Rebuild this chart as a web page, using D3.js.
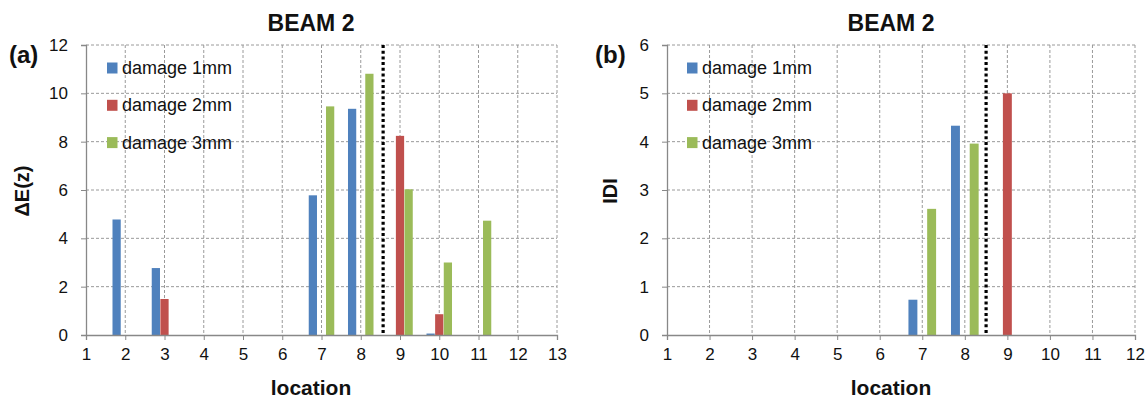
<!DOCTYPE html>
<html>
<head>
<meta charset="utf-8">
<script src="https://cdn.jsdelivr.net/npm/d3@7"></script>
<style>
  html, body { margin: 0; padding: 0; background: #fff; }
  svg { display: block; }
  text { font-family: "Liberation Sans", Arial, sans-serif; fill: #111; }
</style>
</head>
<body>
<svg id="chart" width="1148" height="402"></svg>
<script>
// Series names and colours
const seriesNames = ["damage 1mm", "damage 2mm", "damage 3mm"];
const seriesColors = ["#4F81BD", "#C0504D", "#9BBB59"];

// Panel (a): ΔE(z) per location
const locationsA = [1, 2, 3, 4, 5, 6, 7, 8, 9, 10, 11, 12, 13];
const dE1mm = [0, 4.78, 2.77, 0, 0, 0, 5.78, 9.36, 0, 0.06, 0, 0, 0];
const dE2mm = [0, 0, 1.49, 0, 0, 0, 0, 0, 8.24, 0.86, 0, 0, 0];
const dE3mm = [0, 0, 0, 0, 0, 0, 9.46, 10.81, 6.03, 3.0, 4.73, 0, 0];
const yTicksA = [0, 2, 4, 6, 8, 10, 12];
const markerA = 8.57;

// Panel (b): IDI per location
const locationsB = [1, 2, 3, 4, 5, 6, 7, 8, 9, 10, 11, 12];
const idi1mm = [0, 0, 0, 0, 0, 0, 0.73, 4.33, 0, 0, 0, 0];
const idi2mm = [0, 0, 0, 0, 0, 0, 0, 0, 5.0, 0, 0, 0];
const idi3mm = [0, 0, 0, 0, 0, 0, 2.61, 3.96, 0, 0, 0, 0];
const yTicksB = [0, 1, 2, 3, 4, 5, 6];
const markerB = 8.5;

const svg = d3.select("#chart");

function drawPanel(cfg) {
  const g = svg.append("g");
  const x = d3.scaleLinear()
    .domain([cfg.locations[0], cfg.locations[cfg.locations.length - 1]])
    .range([cfg.left, cfg.right]);
  const y = d3.scaleLinear()
    .domain([0, cfg.yTicks[cfg.yTicks.length - 1]])
    .range([cfg.bottom, cfg.top]);

  // dashed grid
  g.append("g").selectAll("line.h")
    .data(cfg.yTicks.filter(v => v > 0))
    .join("line")
    .attr("x1", cfg.left).attr("x2", cfg.right)
    .attr("y1", d => y(d)).attr("y2", d => y(d))
    .attr("stroke", "#9a9a9a").attr("stroke-width", 1)
    .attr("stroke-dasharray", "3,2");
  g.append("g").selectAll("line.v")
    .data(cfg.locations.slice(1))
    .join("line")
    .attr("x1", d => x(d)).attr("x2", d => x(d))
    .attr("y1", cfg.top).attr("y2", cfg.bottom)
    .attr("stroke", "#9a9a9a").attr("stroke-width", 1)
    .attr("stroke-dasharray", "3,2");

  // grouped bars
  const offsets = [-0.22, 0, 0.22];
  const bw = 0.21;
  cfg.series.forEach((vals, si) => {
    g.append("g").selectAll("rect")
      .data(cfg.locations.map((loc, i) => ({ loc, v: vals[i] })).filter(d => d.v > 0))
      .join("rect")
      .attr("x", d => x(d.loc + offsets[si] - bw / 2))
      .attr("width", d => x(d.loc + offsets[si] + bw / 2) - x(d.loc + offsets[si] - bw / 2))
      .attr("y", d => y(d.v))
      .attr("height", d => y(0) - y(d.v))
      .attr("fill", seriesColors[si]);
  });

  // vertical dotted marker
  g.append("line")
    .attr("x1", x(cfg.marker)).attr("x2", x(cfg.marker))
    .attr("y1", cfg.top).attr("y2", cfg.bottom - 1)
    .attr("stroke", "#000").attr("stroke-width", 3.2)
    .attr("stroke-dasharray", "3,2.7");

  // axes
  const xAxis = d3.axisBottom(x).tickValues(cfg.locations).tickSize(5).tickPadding(8)
    .tickFormat(d3.format("d"));
  const gx = g.append("g").attr("transform", `translate(0,${cfg.bottom})`).call(xAxis);
  gx.select(".domain").attr("stroke", "#888").attr("stroke-width", 1.3);
  gx.selectAll(".tick line").attr("stroke", "#888");
  gx.selectAll(".tick text").attr("font-size", 17).attr("fill", "#111")
    .style("font-family", "'Liberation Sans', Arial, sans-serif");

  const yAxis = d3.axisLeft(y).tickValues(cfg.yTicks).tickSize(5).tickPadding(13)
    .tickFormat(d3.format("d"));
  const gy = g.append("g").attr("transform", `translate(${cfg.left},0)`).call(yAxis);
  gy.select(".domain").attr("stroke", "#888").attr("stroke-width", 1.3);
  gy.selectAll(".tick line").attr("stroke", "#888");
  gy.selectAll(".tick text").attr("font-size", 17).attr("fill", "#111")
    .style("font-family", "'Liberation Sans', Arial, sans-serif");

  // titles and labels
  g.append("text").attr("x", cfg.titleX).attr("y", 31)
    .attr("text-anchor", "middle").attr("font-size", 23).attr("font-weight", "bold")
    .text("BEAM 2");
  g.append("text").attr("x", cfg.titleX).attr("y", 395)
    .attr("text-anchor", "middle").attr("font-size", 21).attr("font-weight", "bold")
    .text("location");
  g.append("text")
    .attr("transform", `translate(${cfg.yLabelX},191) rotate(-90)`)
    .attr("text-anchor", "middle").attr("font-size", 20).attr("font-weight", "bold")
    .text(cfg.yLabel);
  g.append("text").attr("x", cfg.tagX).attr("y", 63)
    .attr("font-size", 24).attr("font-weight", "bold")
    .text(cfg.tag);

  // legend
  const lg = g.append("g").attr("transform", `translate(${cfg.legendX},0)`);
  seriesNames.forEach((name, i) => {
    const cy = 68 + i * 37.3;
    lg.append("rect").attr("x", 0).attr("y", cy - 5.5).attr("width", 10.5).attr("height", 11)
      .attr("fill", seriesColors[i]);
    lg.append("text").attr("x", 15).attr("y", cy + 6)
      .attr("font-size", 18).text(name);
  });
}

drawPanel({
  locations: locationsA, series: [dE1mm, dE2mm, dE3mm], yTicks: yTicksA, marker: markerA,
  left: 86, right: 557, top: 45, bottom: 335,
  titleX: 311, yLabelX: 29, yLabel: "ΔE(z)", tag: "(a)", tagX: 9, legendX: 107
});
drawPanel({
  locations: locationsB, series: [idi1mm, idi2mm, idi3mm], yTicks: yTicksB, marker: markerB,
  left: 667, right: 1135, top: 45, bottom: 335,
  titleX: 891, yLabelX: 617, yLabel: "IDI", tag: "(b)", tagX: 595, legendX: 687
});
</script>
</body>
</html>
